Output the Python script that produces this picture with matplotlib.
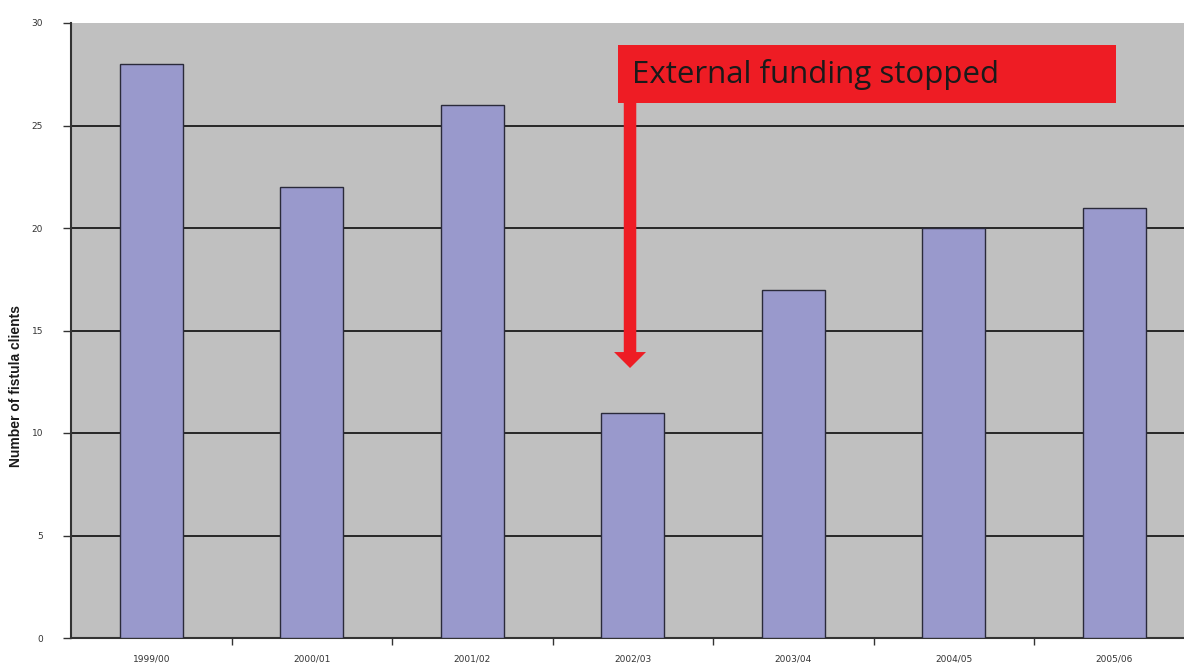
import matplotlib
matplotlib.use("Agg")
import matplotlib.pyplot as plt
import numpy as np
from matplotlib.patches import Rectangle

categories = ["1999/00", "2000/01", "2001/02", "2002/03", "2003/04", "2004/05", "2005/06"]
clients = [28, 22, 26, 11, 17, 20, 21]
y_ticks = [0, 5, 10, 15, 20, 25, 30]
annotation_text = "External funding stopped"

fig = plt.figure(figsize=(11.84, 6.64), dpi=100)
fig.patch.set_facecolor("white")
ax = fig.add_axes([71/1184, 26/664, 7*160.5/1184, 615/664])
ax.set_facecolor("#c0c0c0")

x = np.arange(len(categories))
ax.bar(x, clients, width=0.39, color="#9999cc", edgecolor="#2a2a3a", linewidth=1.0, zorder=3)

ax.set_xlim(-0.5, len(categories) - 0.5)
ax.set_ylim(0, 30)
ax.set_yticks(y_ticks)
ax.set_yticklabels([str(v) for v in y_ticks], fontsize=6.5, color="#333333")
for v in y_ticks[1:-1]:
    ax.axhline(v, color="#1a1a1a", linewidth=1.3, zorder=1)

ax.set_xticks(x)
ax.set_xticklabels(categories, fontsize=6.5, color="#333333")
ax.tick_params(axis="x", which="major", length=0, pad=12)
ax.set_xticks(np.arange(len(categories)) + 0.5, minor=True)
ax.tick_params(axis="x", which="minor", length=5, width=1, color="#333333")
ax.tick_params(axis="y", length=6, width=1, color="#333333", pad=14)

for s in ["top", "right"]:
    ax.spines[s].set_visible(False)
for s in ["left", "bottom"]:
    ax.spines[s].set_color("#333333")
    ax.spines[s].set_linewidth(1.5)

ax.set_ylabel("Number of fistula clients", fontsize=10, fontweight="bold",
              family="Liberation Sans", color="#1a1a1a")
ax.yaxis.set_label_coords(-0.043, 0.41)

# Annotation box
box = Rectangle((2.91, 26.1), 3.1, 2.83, facecolor="#ee1c24", edgecolor="none", zorder=5)
ax.add_patch(box)
ax.text(2.995, 27.5, annotation_text, fontsize=22.5, family="Open Sans",
        color="#1a1a1a", va="center", ha="left", zorder=6)
ax.annotate("", xy=(2.983, 13.17), xytext=(2.983, 26.15),
            arrowprops=dict(width=9.0, headwidth=23, headlength=11.5,
                            facecolor="#ee1c24", edgecolor="none", shrink=0),
            zorder=5)

fig.savefig("out.png", dpi=100)
